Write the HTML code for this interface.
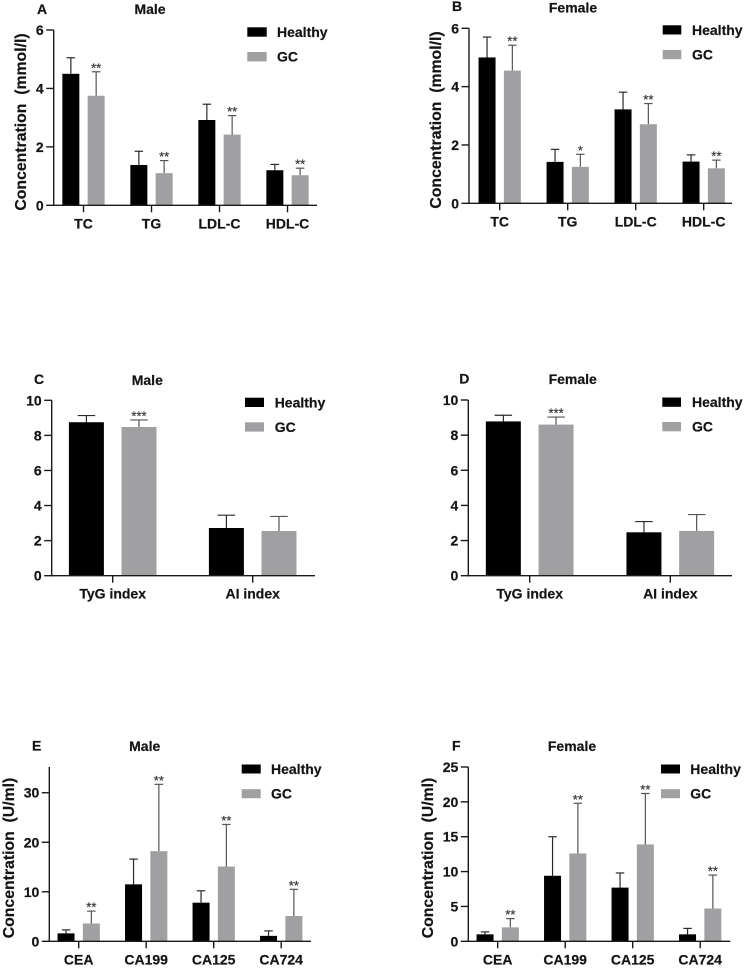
<!DOCTYPE html>
<html lang="en">
<head>
<meta charset="utf-8">
<title>Lipid and tumour marker concentrations by sex</title>
<style>
html,body{margin:0;padding:0;background:#fff;}
body{width:744px;height:968px;overflow:hidden;}
svg{display:block;filter:blur(0.35px);}
text{font-family:"Liberation Sans",sans-serif;font-weight:bold;fill:#141414;stroke:#141414;stroke-width:0.2px;}
.t14{font-size:14px;}
.ytitle{font-size:15.8px;text-anchor:middle;}
.title{font-size:14px;text-anchor:middle;}
.star{font-size:13px;font-weight:normal;text-anchor:middle;fill:#3c3c3c;stroke:#3c3c3c;stroke-width:0.25px;}
</style>
</head>
<body>
<svg id="figure" width="744" height="968" viewBox="0 0 744 968" xmlns="http://www.w3.org/2000/svg">
  <g id="panel-a">
    <text class="t14" x="37" y="14">A</text>
    <text class="title" x="150" y="14">Male</text>
    <text class="ytitle" transform="translate(26,122) rotate(-90)" xml:space="preserve">Concentration  (mmol/l)</text>
    <g>
      <rect x="247.3" y="27.3" width="19.4" height="9.4" fill="#000"/>
      <text class="t14" x="277" y="37">Healthy</text>
      <rect x="247.3" y="52" width="19.4" height="9.4" fill="#a0a0a3"/>
      <text class="t14" x="277" y="61.5">GC</text>
    </g>
  </g>
  <g id="panel-b">
    <text class="t14" x="452" y="11">B</text>
    <text class="title" x="573" y="12.5">Female</text>
    <text class="ytitle" transform="translate(441,120) rotate(-90)" xml:space="preserve">Concentration  (mmol/l)</text>
    <g>
      <rect x="662.7" y="25.3" width="18.6" height="9.2" fill="#000"/>
      <text class="t14" x="692" y="35">Healthy</text>
      <rect x="662.7" y="50" width="18.6" height="9.2" fill="#a0a0a3"/>
      <text class="t14" x="692" y="59.5">GC</text>
    </g>
  </g>
  <g id="panel-c">
    <text class="t14" x="34" y="384">C</text>
    <text class="title" x="147.3" y="385">Male</text>
    <g>
      <rect x="245" y="397.7" width="19" height="9.3" fill="#000"/>
      <text class="t14" x="274.7" y="407.5">Healthy</text>
      <rect x="245" y="422.3" width="19" height="9.3" fill="#a0a0a3"/>
      <text class="t14" x="274.7" y="432">GC</text>
    </g>
  </g>
  <g id="panel-d">
    <text class="t14" x="459.3" y="383.5">D</text>
    <text class="title" x="572.7" y="384">Female</text>
    <g>
      <rect x="662.3" y="397.5" width="18.7" height="9.3" fill="#000"/>
      <text class="t14" x="692" y="407">Healthy</text>
      <rect x="662.3" y="422" width="18.7" height="9.3" fill="#a0a0a3"/>
      <text class="t14" x="692" y="431.5">GC</text>
    </g>
  </g>
  <g id="panel-e">
    <text class="t14" x="32" y="750.5">E</text>
    <text class="title" x="144.7" y="751">Male</text>
    <text class="ytitle" transform="translate(14,858) rotate(-90)" xml:space="preserve">Concentration  (U/ml)</text>
    <g>
      <rect x="241.7" y="764.5" width="19" height="9" fill="#000"/>
      <text class="t14" x="271" y="774">Healthy</text>
      <rect x="241.7" y="789.2" width="19" height="9" fill="#a0a0a3"/>
      <text class="t14" x="271" y="798.5">GC</text>
    </g>
  </g>
  <g id="panel-f">
    <text class="t14" x="452" y="750.5">F</text>
    <text class="title" x="572" y="751">Female</text>
    <text class="ytitle" transform="translate(433,858) rotate(-90)" xml:space="preserve">Concentration  (U/ml)</text>
    <g>
      <rect x="661" y="764.5" width="19" height="9" fill="#000"/>
      <text class="t14" x="690.3" y="774">Healthy</text>
      <rect x="661" y="789.2" width="19" height="9" fill="#a0a0a3"/>
      <text class="t14" x="690.3" y="798.5">GC</text>
    </g>
  </g>
</svg>
<script>
// ---- Chart data ----
const lipidCategories = ["TC", "TG", "LDL-C", "HDL-C"];
const indexCategories = ["TyG index", "AI index"];
const markerCategories = ["CEA", "CA199", "CA125", "CA724"];

const lipidTicks = [0, 2, 4, 6];
const indexTicks = [0, 2, 4, 6, 8, 10];
const markerMaleTicks = [0, 10, 20, 30];
const markerFemaleTicks = [0, 5, 10, 15, 20, 25];

const aHealthy = [4.5, 1.38, 2.92, 1.2];
const aHealthyUpper = [5.05, 1.85, 3.46, 1.4];
const aGC = [3.75, 1.1, 2.42, 1.03];
const aGCUpper = [4.57, 1.53, 3.07, 1.27];
const aStars = ["**", "**", "**", "**"];

const bHealthy = [5.0, 1.42, 3.22, 1.43];
const bHealthyUpper = [5.7, 1.85, 3.81, 1.66];
const bGC = [4.55, 1.25, 2.71, 1.2];
const bGCUpper = [5.42, 1.68, 3.42, 1.48];
const bStars = ["**", "*", "**", "**"];

const cHealthy = [8.75, 2.72];
const cHealthyUpper = [9.13, 3.45];
const cGC = [8.48, 2.55];
const cGCUpper = [8.88, 3.38];
const cStars = ["***", ""];

const dHealthy = [8.78, 2.47];
const dHealthyUpper = [9.13, 3.08];
const dGC = [8.6, 2.55];
const dGCUpper = [9.03, 3.48];
const dStars = ["***", ""];

const eHealthy = [1.6, 11.5, 7.8, 1.1];
const eHealthyUpper = [2.3, 16.6, 10.2, 2.1];
const eGC = [3.6, 18.2, 15.1, 5.1];
const eGCUpper = [6.1, 31.7, 23.6, 10.5];
const eStars = ["**", "**", "**", "**"];

const fHealthy = [1.0, 9.4, 7.7, 1.0];
const fHealthyUpper = [1.35, 15.0, 9.8, 1.85];
const fGC = [2.0, 12.6, 13.9, 4.7];
const fGCUpper = [3.25, 19.8, 21.2, 9.5];
const fStars = ["**", "**", "**", "**"];

// ---- Panel layouts (pixel geometry) and the data each one draws ----
const panels = [
  {id:"a", left:53.7, right:317, bottom:205.3, top:30, yMax:6, first:83.5, step:68, barW:17, off:12.65, cap:8.5,
   cats:lipidCategories, ticks:lipidTicks, h:aHealthy, hu:aHealthyUpper, g:aGC, gu:aGCUpper, stars:aStars},
  {id:"b", left:469, right:732, bottom:203.3, top:28.3, yMax:6, first:499.7, step:68, barW:17, off:12.65, cap:8.5,
   cats:lipidCategories, ticks:lipidTicks, h:bHealthy, hu:bHealthyUpper, g:bGC, gu:bGCUpper, stars:bStars},
  {id:"c", left:51.7, right:315, bottom:575.7, top:400.3, yMax:10, first:112.7, step:140, barW:35, off:26.3, cap:17.5,
   cats:indexCategories, ticks:indexTicks, h:cHealthy, hu:cHealthyUpper, g:cGC, gu:cGCUpper, stars:cStars},
  {id:"d", left:468.3, right:732, bottom:575.7, top:400, yMax:10, first:529.7, step:140.6, barW:35, off:26.35, cap:17.5,
   cats:indexCategories, ticks:indexTicks, h:dHealthy, hu:dHealthyUpper, g:dGC, gu:dGCUpper, stars:dStars},
  {id:"e", left:49.3, right:311, bottom:941.3, top:767, yMax:35.2, first:78.7, step:67.5, barW:17, off:12.65, cap:8.5,
   cats:markerCategories, ticks:markerMaleTicks, h:eHealthy, hu:eHealthyUpper, g:eGC, gu:eGCUpper, stars:eStars},
  {id:"f", left:468.3, right:730.3, bottom:941.3, top:767, yMax:25, first:497.7, step:67.5, barW:17, off:12.65, cap:8.5,
   cats:markerCategories, ticks:markerFemaleTicks, h:fHealthy, hu:fHealthyUpper, g:fGC, gu:fGCUpper, stars:fStars}
];

const NS = "http://www.w3.org/2000/svg";
const AXIS = "#1a1a1a";
const HEALTHY_FILL = "#000000";
const GC_FILL = "#a0a0a3";
const HEALTHY_ERR = "#2a2a2a";
const GC_ERR = "#555558";

function make(tag, parent, attrs) {
  const el = document.createElementNS(NS, tag);
  for (const k in attrs) el.setAttribute(k, attrs[k]);
  parent.appendChild(el);
  return el;
}
function yScale(p, v) { return p.bottom - (v / p.yMax) * (p.bottom - p.top); }
function xScale(p, i) { return p.first + i * p.step; }

function drawErr(group, p, cx, yVal, yUp, color, key) {
  const stem = make("line", group, {x1:cx, x2:cx, y1:yScale(p, yVal), y2:yScale(p, yUp), stroke:color, "stroke-width":1.2});
  
  
  const cap = make("line", group, {x1:cx - p.cap / 2, x2:cx + p.cap / 2, y1:yScale(p, yUp), y2:yScale(p, yUp), stroke:color, "stroke-width":1.2});
  
  
}

function drawSeries(group, p, values, uppers, offset, fill, errColor, series) {
  values.forEach(function (v, i) {
    const cx = xScale(p, i) + offset;
    const key = p.id + '-' + series + '-' + p.cats[i].toLowerCase().replace(/\s+/g, '-');
    drawErr(group, p, cx, v, uppers[i], errColor, key);
    const bar = make("rect", group, {x:cx - p.barW / 2, y:yScale(p, v), width:p.barW, height:p.bottom - yScale(p, v), fill:fill});
    
    
  });
}

panels.forEach(function (p) {
  const root = document.getElementById("panel-" + p.id);

  drawSeries(root, p, p.h, p.hu, -p.off, HEALTHY_FILL, HEALTHY_ERR, 'healthy');
  drawSeries(root, p, p.g, p.gu, p.off, GC_FILL, GC_ERR, 'gc');

  p.stars.forEach(function (s, i) {
    if (!s) return;
    const star = make("text", root, {class:"star", x:xScale(p, i) + p.off, y:yScale(p, p.gu[i]) + 0.5});
    star.textContent = s;
    
    
  });

  const yAxis = make("line", root, {x1:p.left, x2:p.left, y1:p.top, y2:p.bottom + 0.7, stroke:AXIS, "stroke-width":1.4});
  
  
  const xAxis = make("line", root, {x1:p.left - 0.7, x2:p.right, y1:p.bottom, y2:p.bottom, stroke:AXIS, "stroke-width":1.4});
  
  

  p.ticks.forEach(function (t) {
    const y = yScale(p, t);
    const tick = make("line", root, {x1:p.left - 7.5, x2:p.left, y1:y, y2:y, stroke:AXIS, "stroke-width":1.4});
    
    
    const label = make("text", root, {class:"t14", x:p.left - 10, y:y + 5, "text-anchor":"end"});
    label.textContent = t;
    
    
  });

  p.cats.forEach(function (c, i) {
    const x = xScale(p, i);
    const tick = make("line", root, {x1:x, x2:x, y1:p.bottom, y2:p.bottom + 7, stroke:AXIS, "stroke-width":1.4});
    
    
    const label = make("text", root, {class:"t14", x:x, y:p.bottom + 23, "text-anchor":"middle"});
    label.textContent = c;
    
    
  });
});
</script>
</body>
</html>
